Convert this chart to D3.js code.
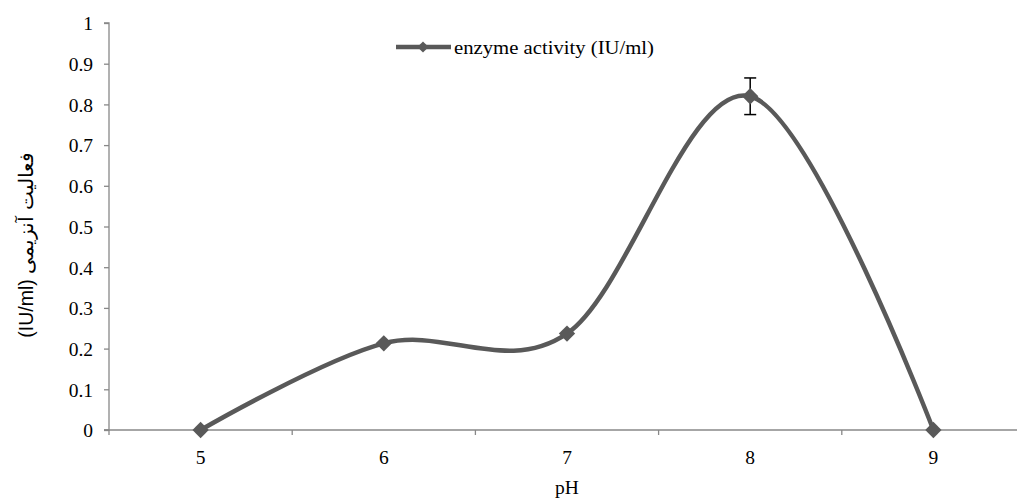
<!DOCTYPE html>
<html lang="en">
<head>
<meta charset="utf-8">
<title>enzyme activity vs pH</title>
<script src="https://cdn.jsdelivr.net/npm/d3@7"></script>
<style>
  body { margin: 0; background: #fff; }
  text { fill: #000; }
</style>
</head>
<body>
<script>
// data
var phValues = ["5", "6", "7", "8", "9"];
var activity = [0, 0.213, 0.237, 0.82, 0];
var errors = [0, 0, 0, 0.045, 0];
var yTicks = [0, 0.1, 0.2, 0.3, 0.4, 0.5, 0.6, 0.7, 0.8, 0.9, 1];
var seriesName = "enzyme activity (IU/ml)";

var W = 1017, H = 498;
var margin = {top: 23, left: 109, bottom: 68};
var plotW = 916;

var svg = d3.select("body").append("svg")
    .attr("width", W)
    .attr("height", H);

var x = d3.scaleBand().domain(phValues).range([margin.left, margin.left + plotW]);
var y = d3.scaleLinear().domain([0, 1]).range([H - margin.bottom, margin.top]);

var serif = "'Liberation Serif', 'Times New Roman', serif";
var fs = "19.5px";

// y axis
var yAxis = svg.append("g")
    .attr("transform", "translate(" + margin.left + ",0)")
    .call(d3.axisLeft(y).tickValues(yTicks).tickSize(5).tickPadding(11)
      .tickFormat(function (d) { return d3.format("")(+d.toFixed(1)); }));
yAxis.attr("font-family", serif).attr("font-size", fs);
yAxis.selectAll("text").attr("dy", "0.35em");

// x axis
var xAxis = svg.append("g")
    .attr("transform", "translate(0," + y(0) + ")")
    .call(d3.axisBottom(x).tickSize(0).tickPadding(20));
xAxis.attr("font-family", serif).attr("font-size", fs);
xAxis.selectAll(".tick line").remove();
// ticks at category boundaries
xAxis.selectAll(".bound")
    .data(phValues)
    .enter().append("line")
    .attr("x1", function (d) { return x(d); })
    .attr("x2", function (d) { return x(d); })
    .attr("y1", 0).attr("y2", 5);

svg.selectAll(".domain, .tick line, line").attr("stroke", "#888").attr("stroke-width", 1.3);
yAxis.select(".domain").attr("d", "M-5," + y(1) + "H0V" + y(0) + "H-5");
xAxis.select(".domain").attr("d", "M" + (margin.left - 5) + ",0H" + (margin.left + plotW));

var pts = phValues.map(function (d, i) {
  return [x(d) + x.bandwidth() / 2, y(activity[i])];
});

svg.append("path")
    .datum(pts)
    .attr("fill", "none")
    .attr("stroke", "#595959")
    .attr("stroke-width", 4.5)
    .attr("d", d3.line().curve(d3.curveCardinal.tension(0)));

// error bars
phValues.forEach(function (d, i) {
  if (!errors[i]) return;
  var cx = x(d) + x.bandwidth() / 2;
  var g = svg.append("g").attr("stroke", "#000").attr("stroke-width", 1.5);
  g.append("line").attr("x1", cx).attr("x2", cx)
      .attr("y1", y(activity[i] + errors[i])).attr("y2", y(activity[i] - errors[i]));
  [activity[i] + errors[i], activity[i] - errors[i]].forEach(function (v) {
    g.append("line").attr("x1", cx - 6).attr("x2", cx + 6)
        .attr("y1", y(v)).attr("y2", y(v));
  });
});

var diamond = d3.symbol().type(d3.symbolDiamond2).size(170);
svg.selectAll(".pt")
    .data(pts)
    .enter().append("path")
    .attr("transform", function (p) { return "translate(" + p[0] + "," + p[1] + ")"; })
    .attr("d", diamond)
    .attr("fill", "#595959");

// legend
var lg = svg.append("g").attr("transform", "translate(396,47)");
lg.append("line").attr("x1", 0).attr("x2", 55).attr("y1", 0).attr("y2", 0)
    .attr("stroke", "#595959").attr("stroke-width", 4.5);
lg.append("path").attr("transform", "translate(27,0)")
    .attr("d", d3.symbol().type(d3.symbolDiamond2).size(80))
    .attr("fill", "#595959");
lg.append("text").attr("x", 58).attr("y", 7)
    .attr("font-family", serif).attr("font-size", fs)
    .attr("textLength", 200).attr("lengthAdjust", "spacingAndGlyphs")
    .text(seriesName);

// axis titles
svg.append("text")
    .attr("x", x("7") + x.bandwidth() / 2).attr("y", 494)
    .attr("text-anchor", "middle")
    .attr("font-family", serif).attr("font-size", fs)
    .text("pH");

svg.append("text")
    .attr("transform", "translate(33,245) rotate(-90)")
    .attr("text-anchor", "middle")
    .attr("font-family", "'Liberation Sans', Arial, sans-serif").attr("font-size", "19.5px")
    .text("(IU/ml) فعالیت آنزیمی");
</script>
</body>
</html>
